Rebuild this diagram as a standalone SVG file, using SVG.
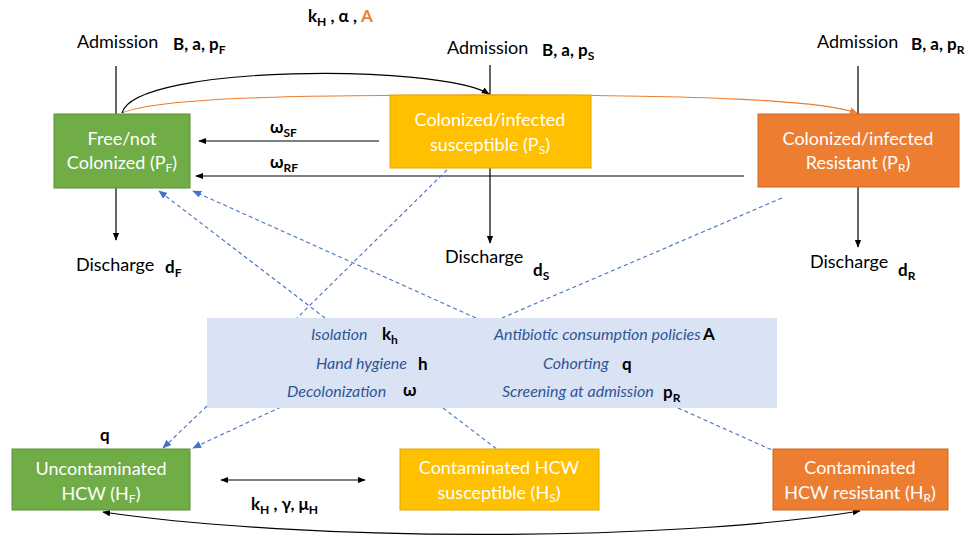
<svg xmlns="http://www.w3.org/2000/svg" width="975" height="538" viewBox="0 0 975 538">
<defs>
<style>
.t{font-family:Lato,"Liberation Sans",sans-serif;fill:#000}
.lab{font-size:18px}
.b{font-weight:bold;font-size:17px}
.w{fill:#fff;font-size:18px;text-anchor:middle}
.it{font-style:italic;fill:#2f5597;font-size:16px}
.ln{stroke:#000;stroke-width:1.2;fill:none}
.dash{stroke:#4472c4;stroke-width:1.1;fill:none;stroke-dasharray:4 3}
.or{stroke:#ed7d31;stroke-width:1.2;fill:none}
</style>
<marker id="ah" viewBox="0 0 10 10" refX="9" refY="5" markerWidth="8" markerHeight="8" markerUnits="userSpaceOnUse" orient="auto-start-reverse"><path d="M0,1 L10,5 L0,9 z" fill="#000"/></marker>
<marker id="ahb" viewBox="0 0 10 10" refX="9" refY="5" markerWidth="9" markerHeight="9" markerUnits="userSpaceOnUse" orient="auto"><path d="M0,1 L10,5 L0,9 z" fill="#4472c4"/></marker>
<marker id="aho" viewBox="0 0 10 10" refX="9" refY="5" markerWidth="8" markerHeight="8" markerUnits="userSpaceOnUse" orient="auto"><path d="M0,1 L10,5 L0,9 z" fill="#ed7d31"/></marker>
</defs>
<rect width="975" height="538" fill="#fff"/>

<g id="connectors">
<line class="ln" x1="116" y1="66" x2="116" y2="240" marker-end="url(#ah)"/>
<line class="ln" x1="490" y1="65" x2="490" y2="243" marker-end="url(#ah)"/>
<line class="ln" x1="858" y1="66" x2="858" y2="247" marker-end="url(#ah)"/>
<path class="or" d="M122,113 C160,97 300,95 490,95 C700,95 820,100 857,113" marker-end="url(#aho)"/>
<path class="ln" d="M122,113 C135,64 440,64 489,94" marker-end="url(#ah)"/>
<line class="ln" x1="379" y1="141" x2="199" y2="141" marker-end="url(#ah)"/>
<line class="ln" x1="744" y1="176" x2="196" y2="176" marker-end="url(#ah)"/>
<line class="dash" x1="325" y1="318" x2="159" y2="191" marker-end="url(#ahb)"/>
<line class="dash" x1="476" y1="318" x2="193" y2="191" marker-end="url(#ahb)"/>
<line class="dash" x1="452" y1="165" x2="297" y2="318"/>
<line class="dash" x1="782" y1="198" x2="502" y2="318"/>
<line class="dash" x1="207" y1="406" x2="163" y2="448" marker-end="url(#ahb)"/>
<line class="dash" x1="281" y1="407" x2="193" y2="448" marker-end="url(#ahb)"/>
<line class="dash" x1="443" y1="408" x2="498" y2="450"/>
<line class="dash" x1="678" y1="408" x2="772" y2="450"/>
<line class="ln" x1="221" y1="480" x2="365" y2="480" marker-start="url(#ah)" marker-end="url(#ah)"/>
<path class="ln" d="M103,512 C300,541 660,543 860,511" marker-start="url(#ah)" marker-end="url(#ah)"/>
</g>

<g id="labels">
<text class="t lab" x="77" y="48">Admission</text>
<text class="t b" x="173" y="50">B, a, p<tspan font-size="12" dy="4">F</tspan></text>
<text class="t lab" x="447" y="54">Admission</text>
<text class="t b" x="542" y="56">B, a, p<tspan font-size="12" dy="4">S</tspan></text>
<text class="t lab" x="817" y="48">Admission</text>
<text class="t b" x="911" y="50">B, a, p<tspan font-size="12" dy="4">R</tspan></text>
<text class="t b" x="308" y="22">k<tspan font-size="12" dy="4">H</tspan><tspan dy="-4"> , α , </tspan><tspan fill="#ed7d31">A</tspan></text>
<text class="t b" x="270" y="133">ω<tspan font-size="12" dy="4">SF</tspan></text>
<text class="t b" x="270" y="168">ω<tspan font-size="12" dy="4">RF</tspan></text>
<text class="t lab" x="76" y="271">Discharge</text>
<text class="t b" x="165" y="273">d<tspan font-size="12" dy="4">F</tspan></text>
<text class="t lab" x="445" y="263">Discharge</text>
<text class="t b" x="533" y="276">d<tspan font-size="12" dy="4">S</tspan></text>
<text class="t lab" x="810" y="268">Discharge</text>
<text class="t b" x="898" y="276">d<tspan font-size="12" dy="4">R</tspan></text>
<text class="t b" x="100" y="441">q</text>
<text class="t b" x="251" y="510">k<tspan font-size="12" dy="4">H</tspan><tspan dy="-4"> , γ, μ</tspan><tspan font-size="12" dy="4">H</tspan></text>
</g>

<g id="PF">
<rect x="54" y="114" width="136" height="74" fill="#70ad47" stroke="#5b9237"/>
<text class="t w" x="122" y="145">Free/not</text>
<text class="t w" x="122" y="169">Colonized (P<tspan font-size="12" dy="3">F</tspan><tspan dy="-3">)</tspan></text>
</g>
<g id="PS">
<rect x="390" y="95" width="201" height="73" fill="#ffc000" stroke="#e0a800"/>
<text class="t w" x="490" y="126">Colonized/infected</text>
<text class="t w" x="490" y="151">susceptible (P<tspan font-size="12" dy="3">S</tspan><tspan dy="-3">)</tspan></text>
</g>
<g id="PR">
<rect x="758" y="114" width="201" height="73" fill="#ed7d31" stroke="#d0661e"/>
<text class="t w" x="858" y="145">Colonized/infected</text>
<text class="t w" x="858" y="169">Resistant (P<tspan font-size="12" dy="3">R</tspan><tspan dy="-3">)</tspan></text>
</g>
<g id="controls">
<rect x="207" y="318" width="570" height="90" fill="#dae3f3"/>
<text class="t it" x="311" y="340">Isolation</text>
<text class="t b" x="382" y="340">k<tspan font-size="12" dy="4">h</tspan></text>
<text class="t it" x="316" y="369">Hand hygiene</text>
<text class="t b" x="418" y="370">h</text>
<text class="t it" x="287" y="397">Decolonization</text>
<text class="t b" x="403" y="396">ω</text>
<text class="t it" x="494" y="340">Antibiotic consumption policies</text>
<text class="t b" x="703" y="340">A</text>
<text class="t it" x="543" y="369">Cohorting</text>
<text class="t b" x="622" y="370">q</text>
<text class="t it" x="502" y="397">Screening at admission</text>
<text class="t b" x="663" y="398">p<tspan font-size="12" dy="4">R</tspan></text>
</g>
<g id="HF">
<rect x="12" y="449" width="178" height="61" fill="#70ad47" stroke="#5b9237"/>
<text class="t w" x="101" y="475">Uncontaminated</text>
<text class="t w" x="101" y="500">HCW (H<tspan font-size="12" dy="3">F</tspan><tspan dy="-3">)</tspan></text>
</g>
<g id="HS">
<rect x="400" y="449" width="199" height="61" fill="#ffc000" stroke="#e0a800"/>
<text class="t w" x="499" y="474">Contaminated HCW</text>
<text class="t w" x="499" y="499">susceptible (H<tspan font-size="12" dy="3">S</tspan><tspan dy="-3">)</tspan></text>
</g>
<g id="HR">
<rect x="773" y="449" width="175" height="61" fill="#ed7d31" stroke="#d0661e"/>
<text class="t w" x="860" y="474">Contaminated</text>
<text class="t w" x="860" y="499">HCW resistant (H<tspan font-size="12" dy="3">R</tspan><tspan dy="-3">)</tspan></text>
</g>
</svg>
